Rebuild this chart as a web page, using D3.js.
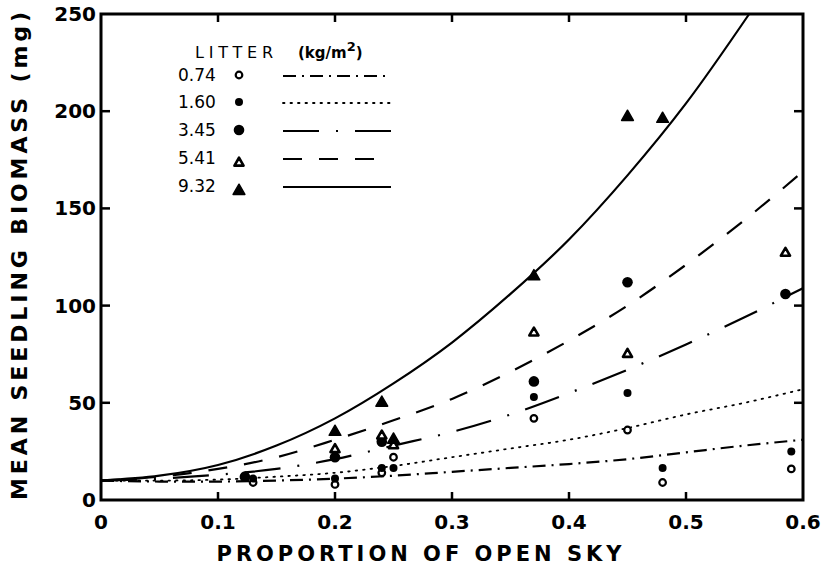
<!DOCTYPE html>
<html><head><meta charset="utf-8">
<script src="https://cdn.jsdelivr.net/npm/d3@7"></script>
<style>
html,body{margin:0;padding:0;background:#fff;}
svg{display:block;}
text{font-family:"DejaVu Sans",sans-serif;fill:#000;}
</style></head>
<body><svg id="c" width="822" height="571"></svg>
<script>
// ---- data ----
const litterLevels = ["0.74", "1.60", "3.45", "5.41", "9.32"];
const xTicks = [0, 0.1, 0.2, 0.3, 0.4, 0.5, 0.6];
const xTickLabels = ["0", "0.1", "0.2", "0.3", "0.4", "0.5", "0.6"];
const yTicks = [0, 50, 100, 150, 200, 250];

// observed points [proportion open sky, biomass]
const pts074 = [[0.13, 9], [0.20, 8], [0.24, 14], [0.25, 22], [0.37, 42], [0.45, 36], [0.48, 9], [0.59, 16]];
const pts160 = [[0.13, 11], [0.20, 11], [0.24, 16.5], [0.25, 16.5], [0.37, 53], [0.45, 55], [0.48, 16.5], [0.59, 25]];
const pts345 = [[0.123, 12], [0.20, 22], [0.24, 30], [0.37, 61], [0.45, 112], [0.585, 106]];
const pts541 = [[0.20, 26], [0.24, 33], [0.25, 28], [0.37, 86], [0.45, 75], [0.585, 127]];
const pts932 = [[0.20, 35], [0.24, 50], [0.25, 31], [0.37, 115], [0.45, 197], [0.48, 196]];

// fitted curves
const fit074 = [[0, 10], [0.05, 9.5], [0.1, 9.5], [0.15, 10], [0.2, 11], [0.25, 12.5], [0.3, 14.5], [0.35, 16.5], [0.4, 18.5], [0.45, 21], [0.5, 24.5], [0.55, 28], [0.6, 31]];
const fit160 = [[0, 10], [0.05, 10], [0.1, 10.5], [0.15, 12], [0.2, 14], [0.25, 17.5], [0.3, 22], [0.35, 26.5], [0.4, 31], [0.45, 37], [0.5, 44], [0.55, 50], [0.6, 57]];
const fit345 = [[0, 10], [0.05, 11], [0.1, 13], [0.15, 16], [0.2, 21], [0.25, 28], [0.3, 35], [0.35, 44], [0.4, 55], [0.45, 67], [0.5, 80], [0.55, 94], [0.6, 109]];
const fit541 = [[0, 10], [0.05, 12], [0.1, 16], [0.15, 22], [0.2, 31], [0.25, 41], [0.3, 52], [0.35, 66], [0.4, 82], [0.45, 100], [0.5, 121], [0.55, 144], [0.6, 169]];
const fit932 = [[0, 10], [0.05, 12.5], [0.1, 18], [0.15, 28], [0.2, 42], [0.25, 60], [0.3, 81], [0.35, 106], [0.4, 134], [0.45, 167], [0.5, 204], [0.554, 250]];

const series = [
  {label: litterLevels[0], pts: pts074, fit: fit074, marker: "openCircle", dash: "13,6,2,6"},
  {label: litterLevels[1], pts: pts160, fit: fit160, marker: "smallDot", dash: "1.5,6"},
  {label: litterLevels[2], pts: pts345, fit: fit345, marker: "bigDot", dash: "36,17,2,17"},
  {label: litterLevels[3], pts: pts541, fit: fit541, marker: "openTri", dash: "19,17"},
  {label: litterLevels[4], pts: pts932, fit: fit932, marker: "filledTri", dash: null}
];

// ---- layout ----
const L = 101, R = 803, T = 14, B = 500;
const svg = d3.select("#c");
const x = d3.scaleLinear().domain([0, 0.6]).range([L, R]);
const y = d3.scaleLinear().domain([0, 250]).range([B, T]);

// curves
const line = d3.line().x(d => x(d[0])).y(d => y(d[1])).curve(d3.curveMonotoneX);
series.forEach(s => {
  svg.append("path").attr("d", line(s.fit)).attr("fill", "none")
    .attr("stroke", "#000").attr("stroke-width", s.dash && s.dash.startsWith("1.5") ? 1.8 : 2.2)
    .attr("stroke-linecap", s.dash && s.dash.startsWith("1.5") ? "round" : "butt")
    .attr("stroke-dasharray", s.dash);
});

// markers
function drawMarker(g, type, cx, cy) {
  if (type === "openCircle") {
    g.append("circle").attr("cx", cx).attr("cy", cy).attr("r", 3.3).attr("fill", "#fff").attr("stroke", "#000").attr("stroke-width", 2.2);
  } else if (type === "smallDot") {
    g.append("circle").attr("cx", cx).attr("cy", cy).attr("r", 4).attr("fill", "#000");
  } else if (type === "bigDot") {
    g.append("circle").attr("cx", cx).attr("cy", cy).attr("r", 5.3).attr("fill", "#000");
  } else if (type === "openTri") {
    g.append("path").attr("d", d3.symbol(d3.symbolTriangle, 36)()).attr("transform", `translate(${cx},${cy})`)
      .attr("fill", "#fff").attr("stroke", "#000").attr("stroke-width", 2.6).attr("stroke-linejoin", "round");
  } else if (type === "filledTri") {
    g.append("path").attr("d", d3.symbol(d3.symbolTriangle, 60)()).attr("transform", `translate(${cx},${cy})`)
      .attr("fill", "#000").attr("stroke", "#000").attr("stroke-width", 1.5).attr("stroke-linejoin", "round");
  }
}
const mg = svg.append("g");
series.forEach(s => {
  s.pts.forEach(p => drawMarker(mg, s.marker, x(p[0]), y(p[1])));
});

// frame
svg.append("rect").attr("x", L).attr("y", T).attr("width", R - L).attr("height", B - T)
  .attr("fill", "none").attr("stroke", "#000").attr("stroke-width", 3);

// ticks (inward)
const tk = svg.append("g").attr("stroke", "#000").attr("stroke-width", 2.5);
xTicks.slice(1, -1).forEach(v => {
  tk.append("line").attr("x1", x(v)).attr("x2", x(v)).attr("y1", B).attr("y2", B - 8);
  tk.append("line").attr("x1", x(v)).attr("x2", x(v)).attr("y1", T).attr("y2", T + 8);
});
yTicks.slice(1, -1).forEach(v => {
  tk.append("line").attr("x1", L).attr("x2", L + 9).attr("y1", y(v)).attr("y2", y(v));
  tk.append("line").attr("x1", R).attr("x2", R - 9).attr("y1", y(v)).attr("y2", y(v));
});

// tick labels
xTicks.forEach((v, i) => {
  svg.append("text").attr("x", x(v)).attr("y", 529).attr("text-anchor", "middle")
    .attr("font-size", 20).attr("font-weight", "bold").text(xTickLabels[i]);
});
yTicks.forEach(v => {
  svg.append("text").attr("x", 96).attr("y", y(v) + 7).attr("text-anchor", "end")
    .attr("font-size", 20).attr("font-weight", "bold").text(v);
});

// axis titles
svg.append("text").attr("x", 419).attr("y", 561).attr("text-anchor", "middle")
  .attr("font-size", 21).attr("font-weight", "bold")
  .attr("textLength", 405).attr("lengthAdjust", "spacing").text("PROPORTION OF OPEN SKY");
svg.append("text").attr("transform", "translate(27,256) rotate(-90)").attr("text-anchor", "middle")
  .attr("font-size", 22).attr("font-weight", "bold")
  .attr("textLength", 488).attr("lengthAdjust", "spacing").text("MEAN SEEDLING BIOMASS (mg)");

// legend
const lg = svg.append("g");
lg.append("text").attr("x", 195).attr("y", 58).attr("font-size", 16)
  .attr("textLength", 78).attr("lengthAdjust", "spacing").text("LITTER");
const unit = lg.append("text").attr("x", 298).attr("y", 58).attr("font-size", 15).attr("font-weight", "bold");
unit.append("tspan").text("(kg/m");
unit.append("tspan").attr("dy", -7).attr("font-size", 13).text("2");
unit.append("tspan").attr("dy", 7).text(")");
const rowY = [75, 102, 130, 158, 186];
series.forEach((s, i) => {
  const ry = rowY[i];
  lg.append("text").attr("x", 178).attr("y", ry + 6).attr("font-size", 17).text(s.label);
  const my = (s.marker === "openTri" || s.marker === "filledTri") ? ry + 5 : ry;
  drawMarker(lg, s.marker, 239, my);
  lg.append("line").attr("x1", 283).attr("x2", 391).attr("y1", ry + 1).attr("y2", ry + 1)
    .attr("stroke", "#000").attr("stroke-width", s.dash && s.dash.startsWith("1.5") ? 1.8 : 2.2)
    .attr("stroke-linecap", s.dash && s.dash.startsWith("1.5") ? "round" : "butt")
    .attr("stroke-dasharray", s.dash);
});
</script></body></html>
